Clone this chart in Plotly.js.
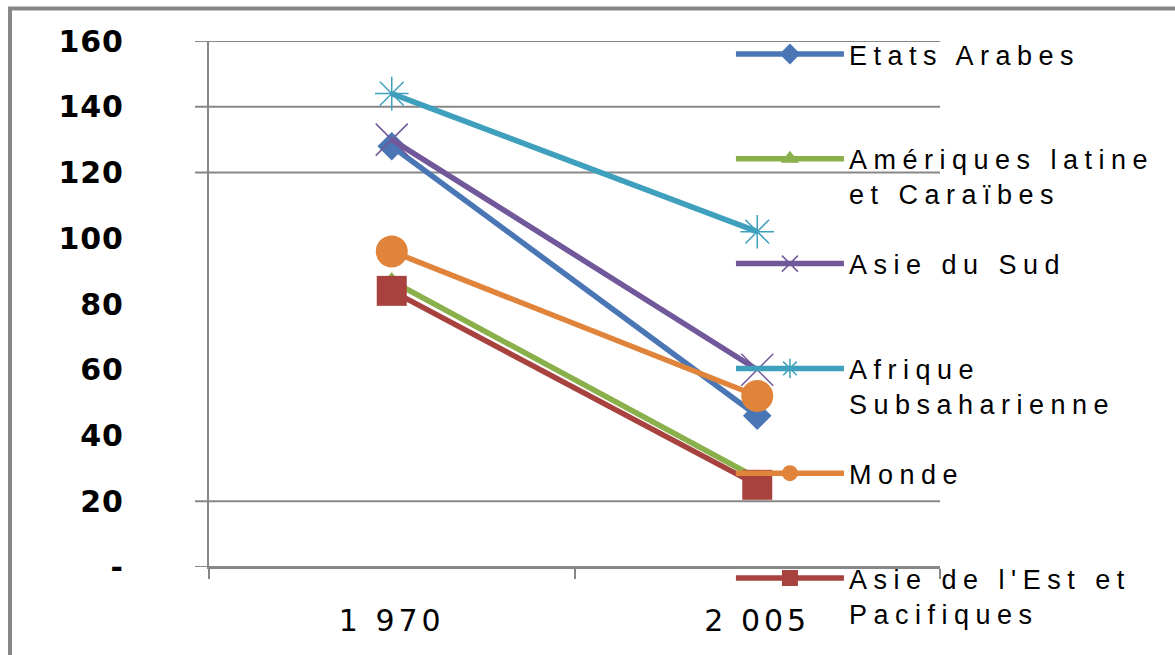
<!DOCTYPE html>
<html>
<head>
<meta charset="utf-8">
<script src="https://cdn.plot.ly/plotly-3.0.1.min.js"></script>
<style>
  html, body { margin: 0; padding: 0; background: #ffffff; }
  #chart { width: 1175px; height: 655px; }
  .legendtext { letter-spacing: 6.5px; }
  .xtick text { letter-spacing: 4px; }
  .ytick text { letter-spacing: 1px; }
</style>
</head>
<body>
<div id="chart"></div>
<script>
// ---- data ----
const years = ["1 970", "2 005"];
const seriesNames = [
  "Etats Arabes<br>\u00a0",
  "Amériques latine<br>et Caraïbes",
  "Asie du Sud<br>\u00a0",
  "Afrique<br>Subsaharienne",
  "Monde<br>\u00a0",
  "Asie de l'Est et<br>Pacifiques"
];
const etatsArabes = [128, 46];
const ameriques = [87, 27];
const asieSud = [130, 60];
const afrique = [144, 102];
const monde = [96, 52];
const asieEst = [84, 25];
const yTickVals = [0, 20, 40, 60, 80, 100, 120, 140, 160];
const yTickText = ["-", "20", "40", "60", "80", "100", "120", "140", "160"];
const gridVals = [0, 20, 120, 140, 160];

// ---- styles ----
const colors = ["#4A76B6", "#8AB04B", "#71589A", "#3FA0BE", "#E0843C", "#A8423F"];
const symbols = ["diamond", "triangle-up", "x-thin-open", "asterisk-open", "circle", "square"];
const sizes = [22, 18, 32, 28, 32, 30];
const values = [etatsArabes, ameriques, asieSud, afrique, monde, asieEst];

const traces = values.map((v, i) => ({
  type: "scatter",
  mode: "lines+markers",
  x: years,
  y: v,
  name: seriesNames[i],
  legendgroup: "g" + i,
  line: { color: colors[i], width: 5.5 },
  marker: {
    symbol: symbols[i],
    size: sizes[i],
    color: colors[i],
    line: { color: colors[i], width: (symbols[i].indexOf("open") >= 0) ? 1.5 : 0 }
  }
}));

const gray = "#878787";
const shapes = gridVals.map(v => ({
  type: "line", xref: "paper", yref: "y",
  x0: -14 / 731, x1: 1, y0: v, y1: v,
  line: { color: gray, width: 2 }, layer: "below"
}));
shapes.push({
  type: "rect", xref: "paper", yref: "paper",
  x0: -0.2722, x1: 1.6, y0: -0.6, y1: 1.0618,
  line: { color: gray, width: 4 }, fillcolor: "rgba(0,0,0,0)"
});

const layout = {
  width: 1175, height: 655,
  paper_bgcolor: "#ffffff", plot_bgcolor: "#ffffff",
  margin: { l: 209, r: 235, t: 41, b: 88 },
  showlegend: true,
  legend: {
    x: 0.714, xanchor: "left", y: 1.021, yanchor: "top",
    maxheight: 650,
    bgcolor: "rgba(0,0,0,0)", borderwidth: 0,
    itemwidth: 108, valign: "top", tracegroupgap: 31.6,
    font: { family: "Liberation Sans, Arial, sans-serif", size: 27, color: "#000000" }
  },
  xaxis: {
    type: "category",
    range: [-0.5, 1.5],
    showgrid: false, zeroline: false,
    showline: true, linecolor: gray, linewidth: 2,
    ticks: "outside", tickson: "boundaries", ticklen: 10, tickwidth: 2, tickcolor: gray,
    ticklabelstandoff: 26,
    tickfont: { family: "DejaVu Sans, sans-serif", size: 30, color: "#000000" },
    fixedrange: true
  },
  yaxis: {
    range: [0, 160],
    tickvals: yTickVals, ticktext: yTickText,
    showgrid: false, zeroline: false,
    showline: true, linecolor: gray, linewidth: 2,
    ticks: "",
    ticklabelstandoff: 77,
    tickfont: { family: "DejaVu Sans, sans-serif", size: 30, color: "#000000", weight: "bold" },
    fixedrange: true
  },
  shapes: shapes
};

Plotly.newPlot("chart", traces, layout, { displayModeBar: false, staticPlot: true });
</script>
</body>
</html>
